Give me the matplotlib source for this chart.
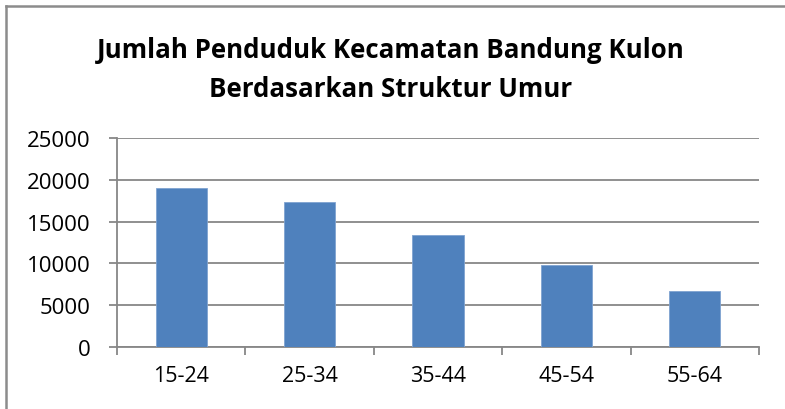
import matplotlib
matplotlib.use("Agg")
import matplotlib.pyplot as plt
from matplotlib.lines import Line2D
import numpy as np

plt.rcParams['font.family'] = ['Open Sans', 'DejaVu Sans']

# data
kelompok_umur = ["15-24", "25-34", "35-44", "45-54", "55-64"]
jumlah_penduduk = [19000, 17400, 13400, 9800, 6700]
y_ticks = [0, 5000, 10000, 15000, 20000, 25000]

BAR = "#4F81BD"
GRID = "#878787"

fig = plt.figure(figsize=(7.85, 4.10), dpi=100)
ax = fig.add_axes([117/785, 1 - 348/410, (759 - 117)/785, (348 - 139)/410])

x = np.arange(len(kelompok_umur))
ax.bar(x, jumlah_penduduk, width=0.4, color=BAR, edgecolor="#7FA3D1", linewidth=0.6, zorder=3)

ax.set_xlim(-0.5, len(kelompok_umur) - 0.5)
ax.set_ylim(0, 25000)
ax.set_yticks(y_ticks)
ax.set_yticklabels([str(v) for v in y_ticks])
ax.yaxis.grid(True, color=GRID, linewidth=1.3, zorder=0)

# category labels at centres, tick marks on the boundaries
ax.set_xticks(x)
ax.set_xticklabels(kelompok_umur)
ax.set_xticks(np.arange(-0.5, len(kelompok_umur)), minor=True)
ax.tick_params(axis="x", which="major", length=0, pad=13, labelsize=15.5, colors="black")
ax.tick_params(axis="x", which="minor", length=6, width=1.3, color=GRID, direction="out")
ax.tick_params(axis="y", length=6, width=1.3, color=GRID, pad=13, labelsize=16, labelcolor="black")

for s in ["top", "right"]:
    ax.spines[s].set_visible(False)
for s in ["left", "bottom"]:
    ax.spines[s].set_color(GRID)
    ax.spines[s].set_linewidth(1.3)

fig.text(391/785, 1 - 70/410, "Jumlah Penduduk Kecamatan Bandung Kulon\nBerdasarkan Struktur Umur",
         ha="center", va="center", fontsize=18.6, fontweight="bold", linespacing=1.58)

# chart border (partially visible)
fig.add_artist(Line2D([6/785, 1], [1 - 7/410, 1 - 7/410], transform=fig.transFigure,
                      color="#8c8c8c", linewidth=1.8))
fig.add_artist(Line2D([6/785, 6/785], [0, 1 - 7/410], transform=fig.transFigure,
                      color="#8c8c8c", linewidth=1.8))

fig.savefig("out.png", dpi=100, facecolor="white")
